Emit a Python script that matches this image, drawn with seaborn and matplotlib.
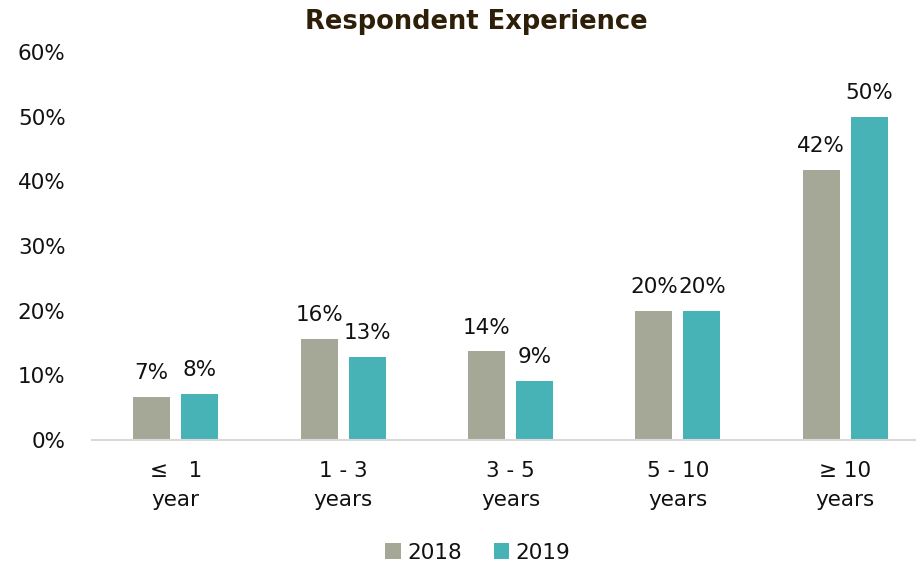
import pandas as pd
import matplotlib.pyplot as plt
import seaborn as sns

categories = ["\u2264   1\nyear", "1 - 3\nyears", "3 - 5\nyears", "5 - 10\nyears", "\u2265 10\nyears"]
years = ["2018", "2019"]
values_2018 = [6.7, 15.6, 13.7, 20.0, 41.8]
values_2019 = [7.1, 12.8, 9.2, 20.0, 50.0]
labels_2018 = ["7%", "16%", "14%", "20%", "42%"]
labels_2019 = ["8%", "13%", "9%", "20%", "50%"]
yticks = [0, 10, 20, 30, 40, 50, 60]

df = pd.DataFrame({
    "category": categories * 2,
    "year": [years[0]] * 5 + [years[1]] * 5,
    "value": values_2018 + values_2019,
})

sns.set_theme(style="white")
plt.rcParams["font.family"] = ["DejaVu Sans"]
fs = 15.5

fig = plt.figure(figsize=(9.16, 5.68), dpi=100)
ax = fig.add_axes([92 / 916, 128 / 568, 837 / 916, 388 / 568])

sns.barplot(
    data=df, x="category", y="value", hue="year", ax=ax,
    palette=["#A5A897", "#48B3B6"], width=0.573, gap=0.23,
    saturation=1, linewidth=0, legend=True,
)

for container, labs in zip(ax.containers, [labels_2018, labels_2019]):
    ax.bar_label(container, labels=labs, padding=10, fontsize=fs, color="#111111")

ax.set_ylim(0, 60)
ax.set_xlim(-0.5, 4.5)
ax.set_yticks(yticks)
ax.set_yticklabels([f"{t}%" for t in yticks], fontsize=fs, color="#111111")
ax.tick_params(axis="y", length=0, pad=19)
ax.tick_params(axis="x", length=0, pad=15, labelsize=fs, labelcolor="#111111")
for lbl in ax.get_xticklabels():
    lbl.set_linespacing(1.6)
ax.set_xlabel("")
ax.set_ylabel("")
for s in ["top", "right", "left"]:
    ax.spines[s].set_visible(False)
ax.spines["bottom"].set_color("#D9D9D9")
ax.spines["bottom"].set_linewidth(1.5)

fig.text(476 / 916, 0.962, "Respondent Experience", ha="center", va="center",
         fontsize=18.5, fontweight="bold", color="#2E1F08")

handles, labs = ax.get_legend_handles_labels()
ax.legend(handles, labs, loc="center", bbox_to_anchor=(0.461, -0.29), ncol=2,
          frameon=False, fontsize=fs, handlelength=0.7, handleheight=0.7,
          handletextpad=0.3, columnspacing=1.5, labelcolor="#111111")

fig.savefig("out.png", dpi=100)
